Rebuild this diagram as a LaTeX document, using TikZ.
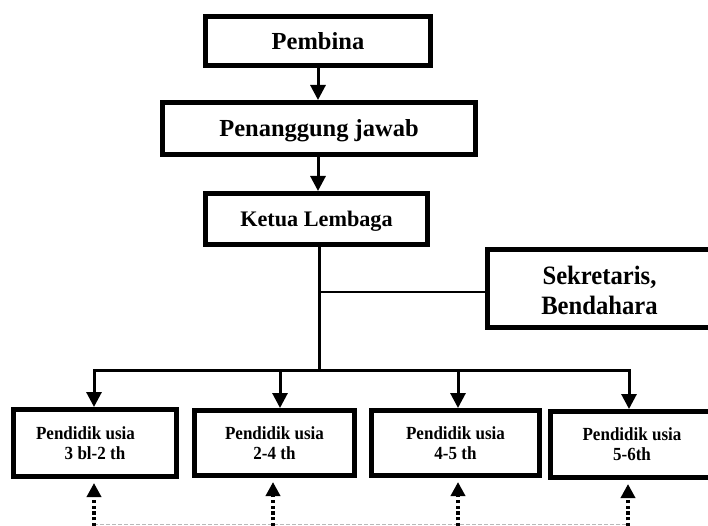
\documentclass[tikz,border=0pt]{standalone}
\usepackage{fontspec}
\setmainfont{Liberation Serif}
\newfontfamily\tallserif[FakeStretch=0.92]{Liberation Serif}
\newfontfamily\sektserif[FakeStretch=0.93]{Liberation Serif}
\usetikzlibrary{arrows.meta}
\begin{document}
\begin{tikzpicture}[x=1pt,y=-1pt,
  orgbox/.style={draw, line width=5pt, inner sep=0pt, align=center},
  bigtxt/.style={font=\bfseries\fontsize{24.5}{30}\selectfont},
  sektxt/.style={font=\sektserif\bfseries\fontsize{26.5}{30}\selectfont},
  midtxt/.style={font=\bfseries\fontsize{22.2}{27}\selectfont},
  smalltxt/.style={font=\tallserif\bfseries\fontsize{18.5}{20}\selectfont},
  conn/.style={line width=3pt, line join=miter},
  tip/.style={-{Triangle[length=15pt,width=15pt]}},
  dotarr/.style={line width=4pt, dash pattern=on 3.3pt off 2.5pt, -{Triangle[length=14pt,width=14pt]}, shorten >=4pt},
  guide/.style={draw=gray!55, line width=1pt, dash pattern=on 4pt off 2pt}
]
\useasboundingbox (0,0) rectangle (708,526);
\clip (0,0) rectangle (708,526);

% boxes
\node[orgbox, bigtxt, text depth=0pt, minimum width=225pt, minimum height=49pt] (pembina) at (318,41) {Pembina};
\node[orgbox, bigtxt, text depth=0pt, minimum width=313pt, minimum height=52pt] (pj) at (319,128.5) {Penanggung jawab};
\node[orgbox, midtxt, text depth=0pt, minimum width=222pt, minimum height=51pt] (ketua) at (316.5,219) {Ketua Lembaga};
\node[orgbox, sektxt, minimum width=224pt, minimum height=78pt] (sek) at (599.5,288.5) {\rule{0pt}{23pt}Sekretaris,\\Bendahara};

\node[orgbox, smalltxt, minimum width=163pt, minimum height=67pt] (b1) at (95,443) {\hspace*{-19pt}Pendidik usia\\3 bl-2 th};
\node[orgbox, smalltxt, minimum width=160pt, minimum height=65pt] (b2) at (274.5,443) {Pendidik usia\\2-4 th};
\node[orgbox, smalltxt, minimum width=168pt, minimum height=65pt] (b3) at (455.5,443) {Pendidik usia\\4-5 th};
\node[orgbox, smalltxt, minimum width=163pt, minimum height=66pt] (b4) at (632,444.5) {Pendidik usia\\5-6th};

% coordinates
\coordinate (trunk) at (319,370);
\coordinate (sekjoin) at (319,292);
\coordinate (bus1) at (94,370);
\coordinate (bus2) at (280,370);
\coordinate (bus3) at (458,370);
\coordinate (bus4) at (629,370);
\coordinate (dd1) at (94,532);
\coordinate (dd2) at (273,532);
\coordinate (dd3) at (458,532);
\coordinate (dd4) at (628,532);
\coordinate (g1) at (94,524.5);
\coordinate (g4) at (628,524.5);

% connectors
\draw[conn, tip] (pembina.south) -- (pembina.south |- pj.north);
\draw[conn, tip] (pj.south -| pembina.south) -- (pembina.south |- ketua.north);
\draw[conn] (trunk |- ketua.south) -- (trunk);
\draw[line width=2.5pt] (sekjoin) -- (sekjoin -| sek.west);
\draw[conn, {Triangle[length=15pt,width=15pt]}-{Triangle[length=15pt,width=15pt]}]
  (bus1 |- b1.north) -- (bus1) -- (bus4) -- (bus4 |- b4.north);
\draw[conn, tip] (bus2) -- (bus2 |- b2.north);
\draw[conn, tip] (bus3) -- (bus3 |- b3.north);

% dotted feedback
\draw[guide] (g1) -- (g4);
\draw[dotarr] (dd1) -- (dd1 |- b1.south);
\draw[dotarr] (dd2) -- (dd2 |- b2.south);
\draw[dotarr] (dd3) -- (dd3 |- b3.south);
\draw[dotarr] (dd4) -- (dd4 |- b4.south);
\end{tikzpicture}
\end{document}
